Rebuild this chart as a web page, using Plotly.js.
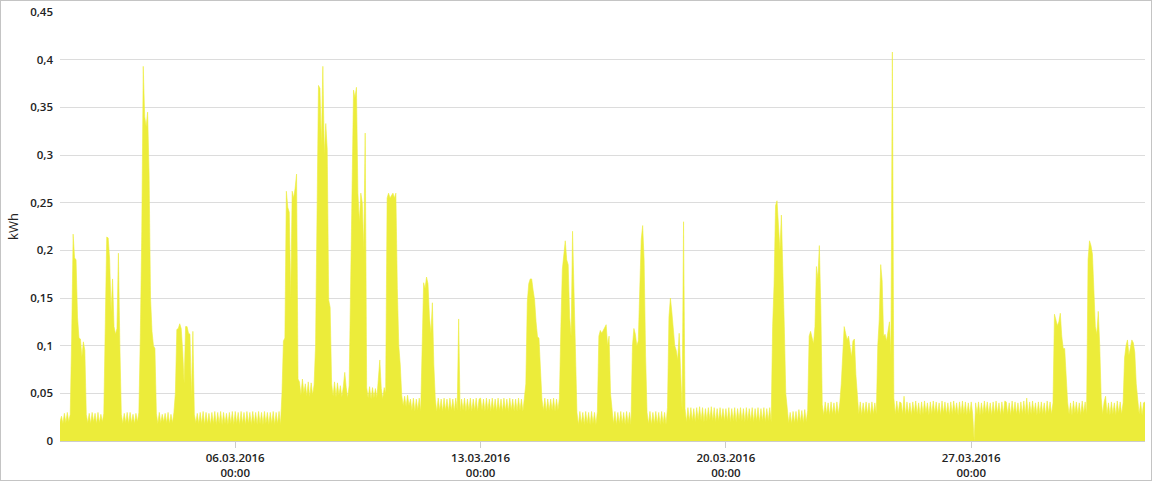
<!DOCTYPE html>
<html>
<head>
<meta charset="utf-8">
<script src="https://cdn.plot.ly/plotly-3.0.1.min.js"></script>
<style>
  body { margin: 0; background: #fff; }
  #myDiv { position: absolute; left: 0; top: 0; width: 1152px; height: 482px; }
  #frame { position: absolute; left: 0; top: 0; width: 1152px; height: 481px; box-sizing: border-box;
           border: 1px solid #c4c4c4; pointer-events: none; }
</style>
</head>
<body>
<div id="myDiv"></div>
<div id="frame"></div>
<script>
// hourly consumption in Wh, one line per day, starting 01.03.2016 00:00
var week1 = [
	20,26,18,29,19,30,20,28,110,217,192,190,130,108,107,88,104,95,28,19,29,18,30,20,
	29,18,30,19,28,20,29,117,214,213,190,135,170,120,112,118,197,100,28,18,29,19,30,18,
	30,19,28,18,29,20,30,110,220,393,340,330,345,280,150,115,100,97,29,18,30,19,28,20,
	29,19,30,18,28,19,30,50,117,118,123,118,95,60,120,120,113,112,45,115,28,19,29,18,
	30,18,31,17,30,18,29,17,30,18,31,17,30,18,31,17,30,18,29,17,30,18,31,17,
	31,18,30,17,31,18,30,17,31,18,30,17,31,18,30,17,31,18,30,17,31,18,30,17,
	30,18,31,17,30,18,31,17,50,105,108,262,245,240,150,262,255,265,280,65,62,48,65,50
];
var week2 = [
	60,47,62,46,61,48,59,100,250,373,370,310,393,300,333,306,148,140,60,47,62,46,61,48,
	58,46,57,72,56,45,58,180,260,368,360,371,260,230,260,250,200,323,56,45,57,44,56,45,
	55,45,65,85,55,44,56,50,255,260,255,258,260,255,260,160,100,80,48,37,47,36,48,37,
	44,32,45,31,44,32,45,31,100,166,160,172,165,130,113,145,80,44,31,45,32,44,31,45,
	32,44,31,45,32,44,31,45,32,128,31,44,32,45,31,44,32,45,31,44,32,45,31,44,
	45,32,44,31,45,32,44,31,45,32,44,31,45,32,44,31,45,32,44,31,45,32,44,31,
	44,31,45,32,44,31,45,60,146,165,170,170,158,148,125,109,108,80,44,32,45,31,44,32
];
var week3 = [
	44,32,45,31,44,32,45,120,180,195,210,190,185,130,110,220,165,110,30,17,31,18,30,17,
	31,18,30,17,31,18,30,17,31,110,116,113,116,120,122,100,110,50,30,18,31,17,30,18,
	31,18,30,17,31,18,30,17,100,118,112,100,105,150,211,226,190,90,30,18,31,17,30,18,
	31,18,30,17,31,18,30,17,35,130,150,135,113,100,95,85,113,80,32,230,34,20,35,21,
	35,21,34,20,35,22,36,21,35,20,34,21,35,22,36,21,35,20,34,21,35,22,34,21,
	34,21,35,20,34,21,35,20,34,22,35,21,34,20,35,21,34,21,35,20,34,21,35,20,
	34,21,35,20,34,21,35,20,120,165,247,252,220,200,237,190,120,50,31,19,30,18,31,19
];
var week4 = [
	31,19,33,20,32,19,33,20,32,110,115,108,102,120,183,170,205,140,38,27,41,28,40,27,
	41,28,40,27,41,28,40,60,90,120,113,106,110,100,88,105,107,70,42,28,41,27,40,28,
	41,28,40,27,41,28,40,28,100,127,185,168,110,112,105,118,125,90,408,45,28,42,29,41,
	40,28,47,27,41,28,40,27,41,29,42,28,40,27,41,28,42,29,40,27,41,28,42,29,
	41,28,40,27,42,29,41,28,40,27,41,28,42,29,40,27,41,28,42,28,41,27,40,28,
	41,28,0,40,28,41,27,40,28,42,29,41,28,40,27,41,28,42,29,40,27,41,28,42,
	41,28,40,27,42,29,41,28,40,27,41,28,42,28,45,27,41,28,42,29,40,27,41,28
];
var week5 = [
	41,28,40,27,42,29,41,28,40,133,127,121,125,134,110,97,97,60,41,28,40,27,42,29,
	41,28,40,27,42,29,41,28,190,210,205,196,158,120,112,136,100,45,28,41,47,28,40,27,
	41,28,40,27,42,29,41,28,40,87,100,106,90,98,106,103,93,60,40,28,41,27,40,41
];

var tickDates = ['2016-03-06 00:00', '2016-03-13 00:00', '2016-03-20 00:00', '2016-03-27 00:00'];
var tickLabels = ['06.03.2016<br>00:00', '13.03.2016<br>00:00', '20.03.2016<br>00:00', '27.03.2016<br>00:00'];

function pad(n) { return (n < 10 ? '0' : '') + n; }

var wh = week1.concat(week2, week3, week4, week5);
var times = [], kwh = [];
wh.forEach(function (v, i) {
	var day = Math.floor(i / 24) + 1, hour = i % 24;
	times.push('2016-03-' + pad(day) + ' ' + pad(hour) + ':00');
	kwh.push(v / 1000);
});

var consumption = {
	type: 'scatter',
	mode: 'lines',
	fill: 'tozeroy',
	x: times,
	y: kwh,
	line: {color: '#ecec3a', width: 0.6},
	fillcolor: '#ecec3a',
	hoverinfo: 'skip'
};

var axisFont = {family: 'Open Sans, sans-serif', size: 11.5, color: '#222', weight: 600};

var layout = {
	width: 1152,
	height: 482,
	margin: {l: 60, r: 7, t: 12, b: 41},
	paper_bgcolor: '#fff',
	plot_bgcolor: '#fff',
	separators: ',.',
	showlegend: false,
	xaxis: {
		type: 'date',
		range: ['2016-03-01 00:00', '2016-03-31 23:00'],
		tickmode: 'array',
		tickvals: tickDates,
		ticktext: tickLabels,
		ticks: 'outside',
		ticklen: 6,
		tickcolor: '#cccccc',
		showgrid: false,
		showline: true,
		linecolor: '#cccccc',
		linewidth: 1,
		tickfont: axisFont
	},
	yaxis: {
		range: [0, 0.45],
		dtick: 0.05,
		tick0: 0,
		showgrid: true,
		gridcolor: '#dcdcdc',
		zeroline: false,
		ticks: '',
		ticklabelstandoff: 6,
		tickfont: axisFont
	},
	annotations: [{
		text: 'kWh',
		textangle: -90,
		showarrow: false,
		xref: 'paper',
		yref: 'paper',
		x: -0.0433,
		y: 0.499,
		xanchor: 'center',
		yanchor: 'middle',
		font: {family: 'Open Sans, sans-serif', size: 13, color: '#222'}
	}]
};

var config = {staticPlot: true, displayModeBar: false};

Plotly.newPlot('myDiv', [consumption], layout, config);
</script>
</body>
</html>
